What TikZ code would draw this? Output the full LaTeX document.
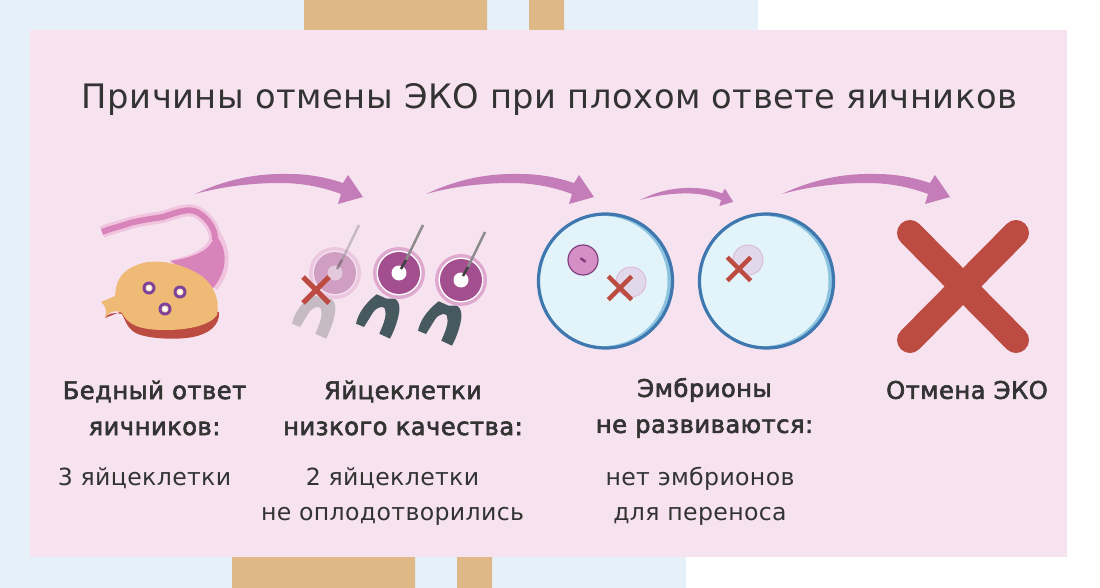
\documentclass[tikz,border=0pt]{standalone}
\usepackage{fontspec}
\setmainfont{DejaVu Sans}
\newfontfamily\plainfont[LetterSpace=1.5]{DejaVu Sans}
\newfontfamily\headfont[LetterSpace=2,FakeBold=2.5]{DejaVu Sans}
\definecolor{panelpink}{HTML}{F7E3EF}
\definecolor{backblue}{HTML}{E6F0F9}
\definecolor{stripetan}{HTML}{DFB887}
\definecolor{arrowpink}{HTML}{C47DB8}
\definecolor{crossred}{HTML}{BC4C42}
\definecolor{tubelight}{HTML}{F0C4DE}
\definecolor{tubedark}{HTML}{D884BA}
\definecolor{ovaryorange}{HTML}{EFB976}
\definecolor{ringpurple}{HTML}{7E4299}
\definecolor{holderdark}{HTML}{46595F}
\definecolor{eggdark}{HTML}{A24E8F}
\definecolor{eggrim}{HTML}{DFA8CF}
\definecolor{cellpink}{HTML}{D68FC4}
\definecolor{celledge}{HTML}{7F3F7F}
\definecolor{wellblue}{HTML}{3F77AF}
\definecolor{wellside}{HTML}{8CC4E0}
\definecolor{wellfill}{HTML}{E2F3FA}
\tikzset{
  swooshfill/.style={fill=arrowpink},
  crossline/.style={draw=crossred, line width=#1},
  titletext/.style={font=\plainfont\fontsize{33.7}{38}\selectfont, text=black!80, inner sep=0pt},
  headtext/.style={font=\headfont\fontsize{24.2}{36}\selectfont, text=black!80, align=center, inner sep=0pt},
  bodytext/.style={font=\plainfont\fontsize{23.6}{35}\selectfont, text=black!80, align=center, inner sep=0pt},
}
\newcommand{\swoosh}[4]{\fill[swooshfill, shift={(#1,#2)}, xscale=#3, yscale=#4]
  (0,0) .. controls (30,-14) and (60,-21) .. (95,-20)
  .. controls (115,-20) and (133,-16) .. (148,-11) -- (153,-19) -- (168,3) -- (143,10) -- (146,0)
  .. controls (130,-6) and (110,-11) .. (85,-11) .. controls (55,-11) and (25,-7) .. (0,0) -- cycle;}
\newcommand{\smallx}[3]{\draw[crossline=#3] (#1-#3*2.6,#2-#3*2.6) -- (#1+#3*2.6,#2+#3*2.6)
  (#1+#3*2.6,#2-#3*2.6) -- (#1-#3*2.6,#2+#3*2.6);}
\newcommand{\follicle}[2]{\fill[ringpurple] (#1,#2) circle (6.5);
  \fill[ovaryorange!40!white] (#1,#2) circle (3.5);
  \fill[white] (#1,#2) circle (2);}
\newcommand{\egg}[4]{\begin{scope}[shift={(#1,#2)}, opacity=#3]
    % holder
    \fill[#4] (-43,50.7) .. controls (-41,42) and (-36,32) .. (-22.3,21.3) -- (-12.3,25.7) -- (-4,25.7)
      .. controls (0,28) and (1,34) .. (0.3,38) .. controls (-1,48) and (-5,58) .. (-9,65.7) -- (-19.7,60.7)
      .. controls (-15,50) and (-12,42) .. (-14,36) .. controls (-15,33) and (-21,33) .. (-25.7,39) -- (-35,54) -- cycle;
    \fill[eggrim] (0,0) circle (26);
    \fill[white] (0,0) circle (22.5);
    \fill[eggdark] (0,0) circle (21);
    \fill[white] (0,0) circle (7.5);
    \draw[black!45, line width=2.5pt] (24,-48) -- (7,-13);
    \draw[black!75, line width=2.5pt] (7,-13) -- (2,-4);
  \end{scope}}
\newcommand{\well}[2]{\fill[wellside] (#1,#2) circle (67);
  \fill[wellfill] (#1-3,#2) circle (65);
  \draw[wellblue, line width=3.2pt] (#1,#2) circle (67);}
\begin{document}
\begin{tikzpicture}[x=1pt,y=-1pt]
  \useasboundingbox (0,0) rectangle (1100,588);

  % --- background ---
  \fill[white] (0,0) rectangle (1100,588);
  \fill[backblue] (0,0) rectangle (758,300);
  \fill[backblue] (0,300) rectangle (686,588);
  \fill[stripetan] (304,0) rectangle (487,40) (529,0) rectangle (564,40);
  \fill[stripetan] (232,540) rectangle (415,588) (457,540) rectangle (492,588);
  \fill[panelpink] (30,30) rectangle (1067,557);

  \node[titletext] (title) at (549.5,100) {Причины отмены ЭКО при плохом ответе яичников};

  % --- arrows ---
  \swoosh{195}{194}{1}{1}
  \swoosh{426}{194}{1}{1}
  \swoosh{640}{200}{.555}{.6}
  \swoosh{782}{194}{1}{1}

  % --- ovary ---
  \draw[tubelight, line width=12pt] (102,232) .. controls (112,228) and (122,226) .. (130,223)
    .. controls (142,220) and (150,219) .. (163,217) .. controls (178,212) and (188,208) .. (197,212)
    .. controls (208,218) and (216,230) .. (215,240);
  \fill[tubelight] (170,260) .. controls (190,256) and (205,250) .. (210,238) -- (220,232)
    .. controls (232,250) and (232,272) .. (217,290) -- cycle;
  \draw[tubedark, line width=6pt] (102,232) .. controls (112,228) and (122,226) .. (130,223)
    .. controls (142,220) and (150,219) .. (163,217) .. controls (178,212) and (188,208) .. (197,212)
    .. controls (208,218) and (216,230) .. (215,240);
  \fill[tubedark] (170,261) .. controls (190,258) and (208,252) .. (213,240) -- (218,238)
    .. controls (228,252) and (227,272) .. (213,288) -- cycle;
  \fill[crossred] (105,318) .. controls (108,313) and (115,312) .. (122,314)
    .. controls (126,322) and (128,330) .. (138,334) .. controls (150,339) and (178,340) .. (193,337)
    .. controls (208,334) and (220,326) .. (219,312) -- (150,300) -- cycle;
  \fill[ovaryorange] (101,302) -- (115,296)
    .. controls (116,284) and (118,270) .. (143,263) .. controls (160,259) and (185,264) .. (203,277)
    .. controls (214,286) and (220,300) .. (217,315) .. controls (210,325) and (190,330) .. (165,330)
    .. controls (140,330) and (128,325) .. (122,313) .. controls (118,310) and (110,310) .. (105,318)
    .. controls (107,311) and (106,306) .. (101,302) -- cycle;
  \follicle{149}{288}
  \follicle{180}{292}
  \follicle{165}{309}

  % --- eggs ---
  \egg{335}{273}{.45}{black!45}
  \egg{399}{273}{1}{holderdark}
  \egg{461}{280}{1}{holderdark}
  \smallx{316}{290}{5}

  % --- dishes ---
  \well{605.5}{281}
  \well{766.5}{281}
  \fill[cellpink, draw=celledge, line width=1.2pt] (583,260) circle (15);
  \draw[celledge, line width=2.5pt, line cap=round] (581,258.5) -- (585,261.5);
  \fill[eggrim!35!wellfill, draw=eggrim!85!wellfill, line width=.8pt] (631,282) circle (15);
  \smallx{620}{288}{4.5}
  \fill[eggrim!35!wellfill, draw=eggrim!85!wellfill, line width=.8pt] (748,260) circle (15);
  \smallx{739}{269}{4.5}

  % --- cancel ---
  \draw[crossred, line width=26pt, line cap=round] (910,233) -- (1016,340) (1016,233) -- (910,340);

  % --- labels ---
  \node[headtext] (poor) at (154.5,408) {Бедный ответ\\яичников:};
  \node[headtext] (quality) at (403,408) {Яйцеклетки\\низкого качества:};
  \node[headtext] (embryos) at (704.5,408) {Эмбрионы\\не развиваются:};
  \node[headtext] (cancel) at (967,390) {Отмена ЭКО};
  \node[bodytext] (three) at (144.5,478) {3 яйцеклетки};
  \node[bodytext] (two) at (392.5,496.5) {2 яйцеклетки\\не оплодотворились};
  \node[bodytext] (none) at (700,496.5) {нет эмбрионов\\для переноса};
\end{tikzpicture}
\end{document}
